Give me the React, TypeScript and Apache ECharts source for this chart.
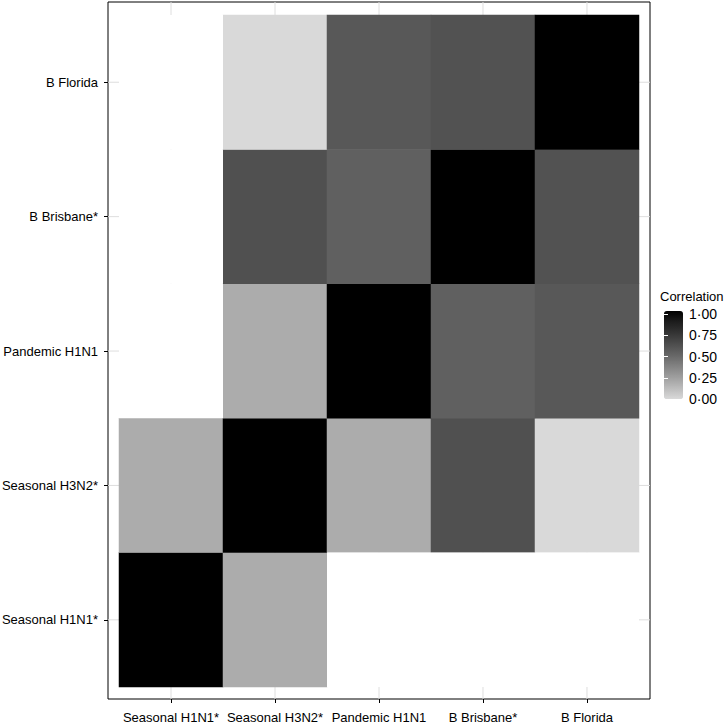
import React, { useEffect, useRef } from "react";
import * as echarts from "echarts";

// Strain names (x and y categories, bottom-to-top for y)
const strains = ["Seasonal H1N1*", "Seasonal H3N2*", "Pandemic H1N1", "B Brisbane*", "B Florida"];

// Correlation matrix rows (null = not available), columns in the order of `strains`
const rowSeasonalH1N1 = [1.0, 0.19, null, null, null];
const rowSeasonalH3N2 = [0.19, 1.0, 0.19, 0.61, 0.0];
const rowPandemicH1N1 = [null, 0.19, 1.0, 0.53, 0.57];
const rowBBrisbane = [null, 0.61, 0.53, 1.0, 0.6];
const rowBFlorida = [null, 0.0, 0.57, 0.6, 1.0];
const matrixRows = [rowSeasonalH1N1, rowSeasonalH3N2, rowPandemicH1N1, rowBBrisbane, rowBFlorida];

// Legend
const legendTitle = "Correlation";
const legendBreaks = [0, 0.25, 0.5, 0.75, 1];
const colourStops = ["#d9d9d9", "#bbbbbb", "#9e9e9e", "#828282", "#666666", "#4d4d4d", "#343434", "#1d1d1d", "#000000"];

const FONT = "'Liberation Sans', Arial, Helvetica, sans-serif";
const FS = 13;

export default function App() {
  const ref = useRef<HTMLDivElement>(null);

  useEffect(() => {
    if (!ref.current) return;
    const chart = echarts.init(ref.current, null, { renderer: "svg" });

    const valueCells: [number, number, number][] = [];
    const missingCells: [number, number][] = [];
    matrixRows.forEach((row, yi) => {
      row.forEach((v, xi) => {
        if (v === null) missingCells.push([xi, yi]);
        else valueCells.push([xi, yi, v as number]);
      });
    });

    const n = strains.length;
    const fmt = (v: number) => v.toFixed(2).replace(".", "·");

    chart.setOption({
      animation: false,
      backgroundColor: "#ffffff",
      title: {
        text: legendTitle,
        left: 660,
        top: 290,
        padding: 0,
        textStyle: { fontSize: 13, fontWeight: "normal", color: "#000", fontFamily: FONT },
      },
      grid: [
        // outer panel frame
        { left: 108, top: 2, width: 542, height: 697, show: true, borderColor: "#000", borderWidth: 1, backgroundColor: "#fff", outerBoundsMode: "none", containLabel: false },
        // tile area
        { left: 119, top: 15, width: 520, height: 672, outerBoundsMode: "none", containLabel: false },
        // colour bar
        { left: 664, top: 314, width: 19, height: 85, outerBoundsMode: "none", containLabel: false },
      ],
      xAxis: [
        { type: "value", gridIndex: 0, min: -0.606, max: n - 1 + 0.606, show: false },
        {
          type: "category",
          gridIndex: 1,
          data: strains,
          position: "bottom",
          offset: 12,
          axisLine: { show: false },
          axisTick: { show: true, alignWithLabel: true, length: 4, lineStyle: { color: "#000", width: 1 } },
          axisLabel: { margin: 12, fontSize: FS, color: "#000", fontFamily: FONT, interval: 0 },
          splitLine: { show: false },
        },
        { type: "value", gridIndex: 2, min: 0, max: 1, show: false },
      ],
      yAxis: [
        { type: "value", gridIndex: 0, min: -0.589, max: n - 1 + 0.597, show: false },
        {
          type: "category",
          gridIndex: 1,
          data: strains,
          position: "left",
          offset: 11,
          axisLine: { show: false },
          axisTick: { show: true, alignWithLabel: true, length: 4, lineStyle: { color: "#000", width: 1 } },
          axisLabel: { margin: 10, fontSize: FS, color: "#000", fontFamily: FONT, interval: 0 },
          splitLine: { show: false },
        },
        {
          type: "value",
          gridIndex: 2,
          min: legendBreaks[0],
          max: legendBreaks[legendBreaks.length - 1],
          interval: 0.25,
          position: "right",
          z: 10,
          axisLine: { show: false },
          axisTick: { show: true, inside: true, length: 4, lineStyle: { color: "#ffffff", width: 1 } },
          axisLabel: { margin: 6, fontSize: 14, color: "#000", fontFamily: FONT, formatter: fmt },
          splitLine: { show: false },
        },
        {
          type: "value",
          gridIndex: 2,
          min: legendBreaks[0],
          max: legendBreaks[legendBreaks.length - 1],
          interval: 0.25,
          position: "left",
          z: 10,
          axisLine: { show: false },
          axisTick: { show: true, inside: true, length: 4, lineStyle: { color: "#ffffff", width: 1 } },
          axisLabel: { show: false },
          splitLine: { show: false },
        },
      ],
      visualMap: {
        type: "continuous",
        min: legendBreaks[0],
        max: legendBreaks[legendBreaks.length - 1],
        seriesIndex: 0,
        dimension: 2,
        orient: "vertical",
        left: 664,
        top: 311,
        itemWidth: 19,
        itemHeight: 88,
        padding: 0,
        calculable: false,
        hoverLink: false,
        inRange: { color: colourStops },
      },
      series: [
        {
          type: "heatmap",
          xAxisIndex: 1,
          yAxisIndex: 1,
          data: valueCells,
          z: 3,
          emphasis: { disabled: true },
          itemStyle: { borderWidth: 0 },
        },
        {
          type: "custom",
          xAxisIndex: 1,
          yAxisIndex: 1,
          z: 3,
          silent: true,
          data: missingCells,
          renderItem: (params: any, api: any) => {
            const c = api.coord([api.value(0), api.value(1)]);
            const s = api.size([1, 1]);
            return {
              type: "rect",
              shape: { x: c[0] - s[0] / 2, y: c[1] - s[1] / 2, width: s[0], height: s[1] },
              style: { fill: "#ffffff" },
            };
          },
        },
        {
          type: "custom",
          xAxisIndex: 0,
          yAxisIndex: 0,
          z: 1,
          silent: true,
          data: strains.map((_, i) => [i]),
          renderItem: (params: any, api: any) => {
            const i = api.value(0);
            const x = api.coord([i, 0])[0];
            const y = api.coord([0, i])[1];
            const cs = params.coordSys;
            const style = { stroke: "#dedede", lineWidth: 1 };
            return {
              type: "group",
              children: [
                { type: "line", shape: { x1: x, y1: cs.y, x2: x, y2: cs.y + cs.height }, style },
                { type: "line", shape: { x1: cs.x, y1: y, x2: cs.x + cs.width, y2: y }, style },
              ],
            };
          },
        },
      ],
    });

    return () => chart.dispose();
  }, []);

  return (
    <div
      ref={ref}
      style={{ position: "fixed", left: 0, top: 0, width: "724px", height: "727px", background: "#fff" }}
    />
  );
}
